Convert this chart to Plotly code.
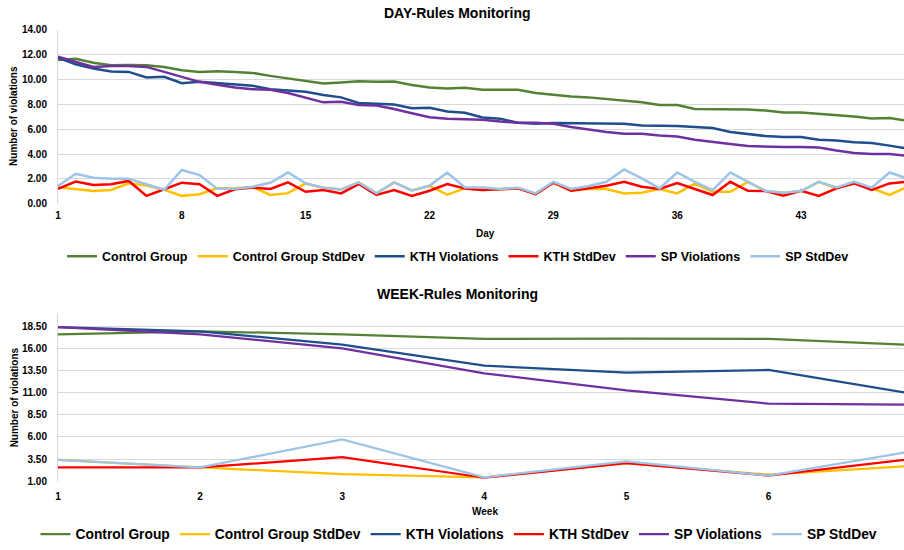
import plotly.graph_objects as go

# ---------------- data ----------------
days = list(range(1, 50))
day_ticks = [1, 8, 15, 22, 29, 36, 43]

control_day = [11.57, 11.67, 11.35, 11.14, 11.17, 11.14, 11.01, 10.74, 10.61, 10.66,
               10.61, 10.53, 10.29, 10.10, 9.88, 9.68, 9.76, 9.86, 9.81, 9.84,
               9.55, 9.36, 9.28, 9.33, 9.17, 9.17, 9.17, 8.91, 8.77, 8.64,
               8.56, 8.43, 8.30, 8.16, 7.95, 7.95, 7.63, 7.63, 7.58, 7.58,
               7.50, 7.34, 7.34, 7.23, 7.18, 7.02, 6.86, 6.91, 6.67]
control_std_day = [1.33, 1.17, 1.04, 1.12, 1.65, 1.48, 1.12, 0.64, 0.77, 1.25,
                   1.25, 1.36, 0.72, 0.86, 1.64, 1.30, 1.16, 1.72, 0.84, 1.72,
                   1.08, 1.45, 0.73, 1.24, 1.12, 1.16, 1.24, 0.79, 1.70, 1.05,
                   1.19, 1.19, 0.84, 0.90, 1.19, 0.84, 1.62, 0.97, 0.97, 1.77,
                   1.03, 0.90, 1.03, 1.77, 1.24, 1.77, 1.24, 0.71, 1.37]
kth_day = [11.75, 11.22, 10.88, 10.64, 10.61, 10.16, 10.21, 9.70, 9.81, 9.70,
           9.62, 9.49, 9.22, 9.09, 9.01, 8.75, 8.56, 8.11, 8.03, 7.98,
           7.69, 7.72, 7.42, 7.32, 6.94, 6.84, 6.52, 6.44, 6.49, 6.49,
           6.49, 6.44, 6.44, 6.30, 6.30, 6.25, 6.17, 6.09, 5.77, 5.58,
           5.45, 5.37, 5.37, 5.16, 5.10, 4.95, 4.90, 4.68, 4.44]
kth_std_day = [1.20, 1.79, 1.52, 1.57, 1.84, 0.64, 1.17, 1.70, 1.57, 0.64,
               1.17, 1.31, 1.20, 1.72, 0.97, 1.11, 0.84, 1.59, 0.71, 1.11,
               0.63, 1.05, 1.59, 1.24, 1.11, 1.16, 1.24, 0.79, 1.70, 1.05,
               1.24, 1.45, 1.77, 1.37, 1.19, 1.67, 1.19, 0.71, 1.77, 1.05,
               1.03, 0.66, 1.05, 0.63, 1.24, 1.64, 1.11, 1.64, 1.77]
sp_day = [11.83, 11.40, 11.01, 11.09, 11.09, 11.01, 10.61, 10.16, 9.81, 9.57,
          9.36, 9.22, 9.17, 8.91, 8.56, 8.16, 8.21, 7.95, 7.90, 7.63,
          7.29, 6.97, 6.84, 6.78, 6.76, 6.62, 6.52, 6.52, 6.44, 6.17,
          5.96, 5.77, 5.64, 5.64, 5.50, 5.42, 5.16, 4.97, 4.81, 4.65,
          4.60, 4.57, 4.57, 4.52, 4.28, 4.09, 4.01, 4.01, 3.86]
sp_std_day = [1.44, 2.42, 2.10, 2.02, 2.02, 1.57, 1.13, 2.72, 2.31, 1.22,
              1.22, 1.38, 1.69, 2.52, 1.64, 1.30, 1.16, 1.72, 0.84, 1.72,
              1.08, 1.45, 2.52, 1.32, 1.32, 1.19, 1.30, 0.84, 1.77, 1.19,
              1.43, 1.77, 2.76, 2.04, 1.24, 2.52, 1.77, 1.10, 2.52, 1.77,
              1.03, 0.90, 1.03, 1.77, 1.32, 1.77, 1.30, 2.52, 2.04]

weeks = [1, 2, 3, 4, 5, 6, 7]
week_ticks = [1, 2, 3, 4, 5, 6]
control_week = [17.57, 17.90, 17.57, 17.05, 17.08, 17.05, 16.38]
control_std_week = [3.42, 2.56, 1.82, 1.45, 3.05, 1.75, 2.73]
kth_week = [18.39, 17.90, 16.41, 14.03, 13.25, 13.55, 10.90]
kth_std_week = [2.56, 2.56, 3.72, 1.40, 3.05, 1.64, 3.50]
sp_week = [18.39, 17.57, 15.97, 13.17, 11.24, 9.75, 9.63]
sp_std_week = [3.42, 2.56, 5.73, 1.45, 3.23, 1.64, 4.36]

day_yticks = [0, 2, 4, 6, 8, 10, 12, 14]
week_yticks = [1, 3.5, 6, 8.5, 11, 13.5, 16, 18.5, 20]
week_yticktext = ["1.00", "3.50", "6.00", "8.50", "11.00", "13.50", "16.00", "18.50", ""]

series_names = ["Control Group", "Control Group StdDev", "KTH Violations",
                "KTH StdDev", "SP Violations", "SP StdDev"]
colors = ["#548235", "#FFC000", "#1F4E8C", "#FF0000", "#7030A0", "#9DC3E6"]

# ---------------- figure ----------------
W, H = 904, 550
FONT = "Liberation Sans, Arial, sans-serif"


def px_x(x):
    return x / W


def px_y(y):
    return 1 - y / H


fig = go.Figure()

day_series = [control_day, control_std_day, kth_day, kth_std_day, sp_day, sp_std_day]
week_series = [control_week, control_std_week, kth_week, kth_std_week, sp_week, sp_std_week]

for name, vals, col in zip(series_names, day_series, colors):
    fig.add_trace(go.Scatter(x=days, y=vals, mode="lines", name=name,
                             line=dict(color=col, width=2.5),
                             xaxis="x", yaxis="y", legend="legend"))
for name, vals, col in zip(series_names, week_series, colors):
    fig.add_trace(go.Scatter(x=weeks, y=vals, mode="lines", name=name,
                             line=dict(color=col, width=2.25),
                             xaxis="x2", yaxis="y2", legend="legend2"))

tickfont = dict(family=FONT, size=10, color="#000000", weight="bold")
grid = "#d9d9d9"

fig.update_layout(
    width=W, height=H,
    margin=dict(l=0, r=0, t=0, b=0),
    paper_bgcolor="white", plot_bgcolor="white",
    hovermode=False,
    xaxis=dict(domain=[px_x(58), 1], range=[1, 48.82], tickvals=day_ticks,
               showgrid=False, zeroline=False, showline=False, ticks="",
               tickfont=tickfont, ticklabelstandoff=4, anchor="y", automargin=False),
    yaxis=dict(domain=[px_y(205.7), px_y(30)], range=[0, 14], tickvals=day_yticks,
               tickformat=".2f", showgrid=True, gridcolor=grid, gridwidth=1,
               zeroline=False, showline=True, linecolor=grid, linewidth=1,
               ticks="", tickfont=tickfont, ticklabelstandoff=8, anchor="x",
               automargin=False),
    xaxis2=dict(domain=[px_x(58), 1], range=[1, 6.953], tickvals=week_ticks,
                showgrid=False, zeroline=False, showline=False, ticks="",
                tickfont=tickfont, ticklabelstandoff=8, anchor="y2", automargin=False),
    yaxis2=dict(domain=[px_y(485.7), px_y(315.6)], range=[1, 20], tickvals=week_yticks,
                ticktext=week_yticktext, showgrid=True, gridcolor=grid, gridwidth=1,
                zeroline=False, showline=True, linecolor=grid, linewidth=1,
                ticks="", tickfont=tickfont, ticklabelstandoff=8, anchor="x2",
                automargin=False),
    legend=dict(orientation="h", x=px_x(458), xanchor="center", y=px_y(259),
                yanchor="middle", font=dict(family=FONT, size=12.5, color="#000000", weight="bold"),
                itemwidth=30, bgcolor="rgba(0,0,0,0)", traceorder="normal"),
    legend2=dict(orientation="h", x=px_x(459), xanchor="center", y=px_y(539),
                 yanchor="middle", font=dict(family=FONT, size=13.8, color="#000000", weight="bold"),
                 itemwidth=30, bgcolor="rgba(0,0,0,0)", traceorder="normal"),
)

ann_font = dict(family=FONT, size=10, color="#000000", weight="bold")
title_font = dict(family=FONT, size=14, color="#000000", weight="bold")
annotations = [
    dict(text="DAY-Rules Monitoring", x=px_x(458), y=px_y(13), font=title_font),
    dict(text="WEEK-Rules Monitoring", x=px_x(458), y=px_y(297), font=title_font),
    dict(text="Number of violations", x=px_x(14), y=px_y(117), font=ann_font, textangle=-90),
    dict(text="Number of violations", x=px_x(14), y=px_y(401), font=ann_font, textangle=-90),
    dict(text="Day", x=px_x(485), y=px_y(236), font=ann_font),
    dict(text="Week", x=px_x(485), y=px_y(516), font=ann_font),
]
for a in annotations:
    fig.add_annotation(xref="paper", yref="paper", showarrow=False,
                       xanchor="center", yanchor="middle", **a)

fig.write_html("out.html",
               config={"displayModeBar": False},
               post_script="document.body.style.margin='0px';"
                           "document.body.style.overflow='hidden';")
